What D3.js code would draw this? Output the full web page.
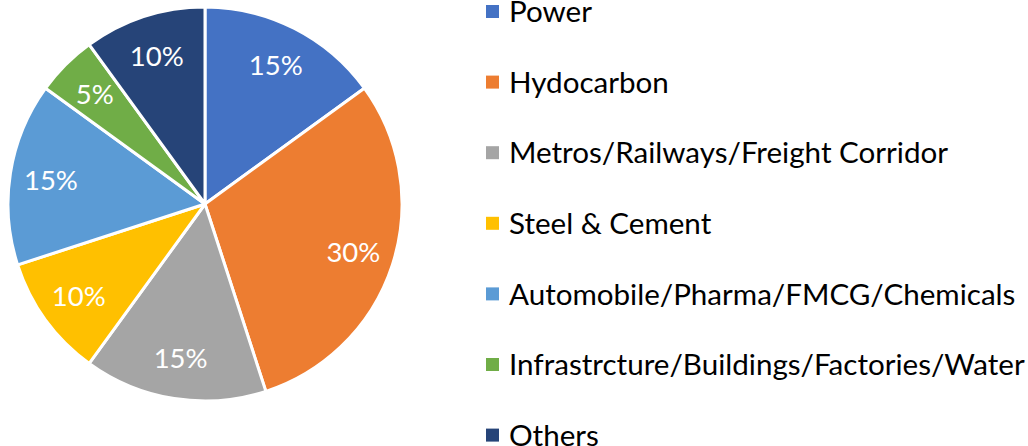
<!DOCTYPE html>
<html><head><meta charset="utf-8">
<script src="https://cdn.jsdelivr.net/npm/d3@7"></script>
<style>html,body{margin:0;padding:0;background:#fff;}svg{display:block;}</style>
</head><body>
<svg id="chart" width="1028" height="446"></svg>
<script>
const categories = ["Power","Hydocarbon","Metros/Railways/Freight Corridor","Steel & Cement","Automobile/Pharma/FMCG/Chemicals","Infrastrcture/Buildings/Factories/Water","Others"];
const values = [15,30,15,10,15,5,10];
const colors = ["#4472C4","#ED7D31","#A5A5A5","#FFC000","#5B9BD5","#70AD47","#264478"];

const svg = d3.select("#chart");
const font = "Lato, 'Open Sans', sans-serif";
const cx = 205, cy = 204, R = 197, labelR = 156;

const pie = d3.pie().sort(null).value(d => d)(values);
const arc = d3.arc().innerRadius(0).outerRadius(R);
const labelArc = d3.arc().innerRadius(labelR).outerRadius(labelR);
const total = d3.sum(values);

const g = svg.append("g").attr("transform", `translate(${cx},${cy})`);
g.selectAll("path").data(pie).join("path")
  .attr("d", arc)
  .attr("fill", (d,i) => colors[i])
  .attr("stroke", "#fff").attr("stroke-width", 3).attr("stroke-linejoin","round");

g.selectAll("text").data(pie).join("text")
  .attr("transform", d => `translate(${labelArc.centroid(d)})`)
  .attr("text-anchor", "middle")
  .attr("dy", "0.36em")
  .attr("fill", "#fff")
  .style("font-family", font).style("font-size", "27.5px")
  .text(d => Math.round(d.value / total * 100) + "%");

// legend
const legX = 486, sq = 13, textX = 509, row0 = 11.5, rowStep = 70.6;
const leg = svg.append("g");
const items = leg.selectAll("g").data(categories).join("g")
  .attr("transform", (d,i) => `translate(0,${row0 + i*rowStep})`);
items.append("rect").attr("x", legX).attr("y", -sq/2).attr("width", sq).attr("height", sq)
  .attr("fill", (d,i) => colors[i]);
const texts = items.append("text").attr("x", textX).attr("y", 0).attr("dy", "0.36em")
  .attr("fill", "#000").style("font-family", font).style("font-size", "27px")
  .text(d => d);
// fit longest label width to reference (~516px)
let maxW = 0;
texts.each(function(){ maxW = Math.max(maxW, this.getComputedTextLength()); });
const fs = 27 * 516 / maxW;
texts.style("font-size", fs + "px");
</script>
</body></html>
